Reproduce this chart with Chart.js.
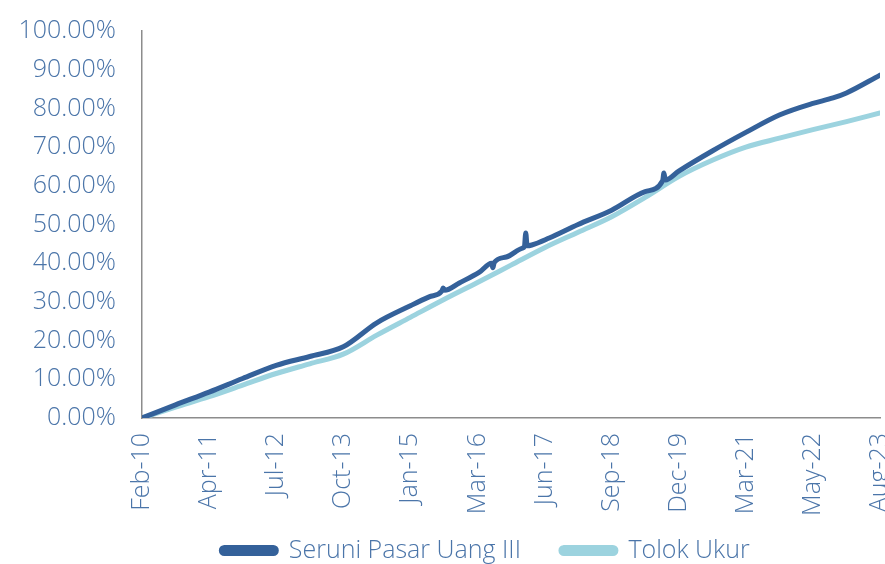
<!DOCTYPE html>
<html>
<head>
<meta charset="utf-8">
<script src="https://cdn.jsdelivr.net/npm/chart.js@4/dist/chart.umd.min.js"></script>
<style>
  html, body { margin: 0; padding: 0; overflow: hidden; background: #fff; }
  #wrap { width: 885px; height: 593px; }
</style>
</head>
<body>
<div id="wrap"><canvas id="chart"></canvas></div>
<script>
// x positions are in axis-label periods (0 = Feb-10 ... 11 = Aug-23)
const xLabels = ['Feb-10', 'Apr-11', 'Jul-12', 'Oct-13', 'Jan-15', 'Mar-16',
                 'Jun-17', 'Sep-18', 'Dec-19', 'Mar-21', 'May-22', 'Aug-23'];

const seruniX = [0, 0.5, 1, 1.5, 2, 2.5, 3, 3.5, 4, 4.28, 4.47, 4.49, 4.51, 4.73, 5.03, 5.21, 5.23, 5.25, 5.43,
                 5.67, 5.70, 5.72, 5.74, 5.81, 6.07, 6.5, 7, 7.5, 7.76, 7.78, 7.80, 8, 8.5, 9, 9.5, 10, 10.3, 10.5, 11];
const seruniY = [0, 3.4, 6.7, 10.2, 13.6, 15.9, 18.4, 24.6, 29.0, 31.3, 32.8, 33.6, 33.0, 34.9, 37.7, 40.0, 38.8, 40.2, 41.6,
                 43.9, 44.3, 47.8, 44.5, 44.7, 46.5, 50.0, 53.7, 58.5, 61.3, 63.3, 61.5, 63.8, 69.0, 73.8, 78.3, 81.3, 82.7, 84.0, 88.6];

const tolokX = [0, 0.5, 1, 1.5, 2, 2.5, 3, 3.5, 4, 4.5, 5, 5.5, 6, 6.5, 7, 7.5, 8, 8.5, 9, 9.5, 10, 10.5, 11];
const tolokY = [0, 2.8, 5.5, 8.5, 11.5, 14.0, 16.5, 21.4, 26.0, 30.6, 35.0, 39.5, 44.0, 48.0, 52.0, 57.0, 62.4, 66.6, 70.0, 72.3, 74.5, 76.6, 78.8];

const seriesNames = ['Seruni Pasar Uang III', 'Tolok Ukur'];

const textColor = '#4b75a9';
const axisColor = '#8c8c8c';
const font = { family: "'Open Sans', 'Noto Sans', sans-serif", size: 25, weight: '300' };

const toPoints = (xs, ys) => xs.map((x, i) => ({ x: x, y: ys[i] }));

// legend sits left of the canvas centre and tucks up under the rotated labels
const legendShift = {
  id: 'legendShift',
  afterLayout(chart) {
    chart.legend.left = 91;
    chart.legend.top = chart.chartArea.bottom + 80;
  }
};

new Chart(document.getElementById('chart'), {
  type: 'line',
  data: {
    datasets: [
      {
        label: seriesNames[0],
        data: toPoints(seruniX, seruniY),
        borderColor: '#34619a',
        backgroundColor: '#34619a',
        borderWidth: 5,
        pointRadius: 0,
        borderCapStyle: 'round',
        borderJoinStyle: 'round',
        cubicInterpolationMode: 'monotone'
      },
      {
        label: seriesNames[1],
        data: toPoints(tolokX, tolokY),
        borderColor: '#9cd3df',
        backgroundColor: '#9cd3df',
        borderWidth: 5,
        pointRadius: 0,
        borderCapStyle: 'round',
        borderJoinStyle: 'round',
        cubicInterpolationMode: 'monotone'
      }
    ]
  },
  options: {
    responsive: true,
    maintainAspectRatio: false,
    animation: false,
    layout: { padding: { top: 31, left: 0, right: 5, bottom: 0 } },
    plugins: {
      legend: {
        position: 'bottom',
        labels: {
          color: textColor,
          font: font,
          boxWidth: 55,
          boxHeight: 6,
          useBorderRadius: true,
          borderRadius: 3,
          padding: 40
        }
      },
      tooltip: { enabled: false }
    },
    scales: {
      x: {
        type: 'linear',
        min: 0,
        max: 11,
        grid: { display: false, drawTicks: false },
        border: { display: true, color: axisColor, width: 1.5 },
        ticks: {
          stepSize: 1,
          minRotation: 90,
          maxRotation: 90,
          padding: 15,
          color: textColor,
          font: font,
          callback: v => xLabels[v]
        },
        afterFit: scale => {
          scale.height = 100;
          scale.paddingLeft = 0;
          scale.paddingRight = 0;
        }
      },
      y: {
        min: 0,
        max: 100,
        grid: { display: false, drawTicks: false },
        border: { display: true, color: axisColor, width: 1.5 },
        ticks: {
          stepSize: 10,
          padding: 26,
          color: textColor,
          font: font,
          callback: v => v.toFixed(2) + '%'
        },
        afterFit: scale => {
          scale.width = 142;
          scale.paddingTop = 0;
          scale.paddingBottom = 0;
        }
      }
    }
  },
  plugins: [legendShift]
});
</script>
</body>
</html>
